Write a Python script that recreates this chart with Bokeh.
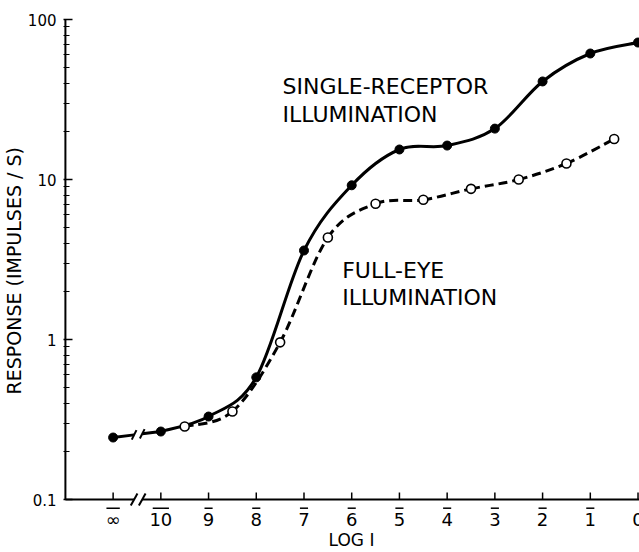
import numpy as np
from bokeh.plotting import figure
from bokeh.models import Range1d, FixedTicker, Label, Title
from bokeh.core.properties import value
from bokeh.embed import file_html
from bokeh.resources import INLINE

# ---------------- data ----------------
log_i_single = [-11, -10, -9, -8, -7, -6, -5, -4, -3, -2, -1, 0]
resp_single = [0.244, 0.266, 0.33, 0.58, 3.6, 9.2, 15.4, 16.3, 20.8, 41.0, 61.3, 71.8]

log_i_full = [-9.5, -8.5, -7.5, -6.5, -5.5, -4.5, -3.5, -2.5, -1.5, -0.5]
resp_full = [0.286, 0.355, 0.96, 4.34, 7.05, 7.47, 8.74, 10.0, 12.6, 17.9]

x_ticks = [-11, -10, -9, -8, -7, -6, -5, -4, -3, -2, -1, 0]
x_tick_labels = ["\u221e", "10", "9", "8", "7", "6", "5", "4", "3", "2", "1", "0"]
x_tick_overbar = [True] * 11 + [False]          # "bar" notation for negative logs
y_ticks = [0.1, 1, 10, 100]
y_tick_labels = ["0.1", "1", "10", "100"]
y_minor = [0.2, 0.3, 0.4, 0.5, 0.6, 0.7, 0.8, 0.9,
           2, 3, 4, 5, 6, 7, 8, 9,
           20, 30, 40, 50, 60, 70, 80, 90]

# ---------------- layout constants ----------------
PX_DEC = 160.0                       # pixels per decade
def y_px_below(px):                  # value lying `px` pixels below the 0.1 line
    return 0.1 * 10 ** (-px / PX_DEC)

X_START, X_END = -12.04, 0.031
Y_START, Y_END = y_px_below(29), 100
AXIS_X = -12
BRK = (-10.56, -10.39)               # axis / curve break
FONT = "DejaVu Sans"


def bezier_pieces(xs, ys):
    """Catmull-Rom control points (in x / log-y space) for a smooth curve through the points."""
    x = np.asarray(xs, float)
    ly = np.log10(np.asarray(ys, float))
    xp = np.concatenate([[x[0]], x, [x[-1]]])
    yp = np.concatenate([[ly[0]], ly, [ly[-1]]])
    d = dict(x0=[], y0=[], x1=[], y1=[], cx0=[], cy0=[], cx1=[], cy1=[])
    for i in range(len(x) - 1):
        p0x, p1x, p2x, p3x = xp[i], xp[i + 1], xp[i + 2], xp[i + 3]
        p0y, p1y, p2y, p3y = yp[i], yp[i + 1], yp[i + 2], yp[i + 3]
        d["x0"].append(p1x); d["y0"].append(10 ** p1y)
        d["x1"].append(p2x); d["y1"].append(10 ** p2y)
        d["cx0"].append(p1x + (p2x - p0x) / 6); d["cy0"].append(10 ** (p1y + (p2y - p0y) / 6))
        d["cx1"].append(p2x - (p3x - p1x) / 6); d["cy1"].append(10 ** (p2y - (p3y - p1y) / 6))
    return d


p = figure(width=639, height=552,
           x_range=Range1d(X_START, X_END), y_range=Range1d(Y_START, Y_END),
           y_axis_type="log", output_backend="svg", toolbar_location=None,
           min_border_left=63, min_border_right=0, min_border_top=19, min_border_bottom=24)
p.outline_line_color = None
p.xgrid.visible = False
p.ygrid.visible = False
p.background_fill_color = "white"
p.border_fill_color = "white"

# ---- x axis: only its title; line, ticks and labels drawn in the frame ----
xa = p.xaxis[0]
xa.ticker = FixedTicker(ticks=[])
xa.axis_line_color = None
xa.major_tick_line_color = None
xa.minor_tick_line_color = None
xa.major_tick_in = 0
xa.major_tick_out = 0
xa.minor_tick_in = 0
xa.minor_tick_out = 0
xa.major_label_standoff = 0
xa.axis_label = "LOG I"
xa.axis_label_text_font = FONT
xa.axis_label_text_font_style = "normal"
xa.axis_label_text_font_size = "17px"
xa.axis_label_text_color = "black"
xa.axis_label_standoff = 1

# ---- y axis ----
ya = p.yaxis[0]
ya.ticker = FixedTicker(ticks=y_ticks, minor_ticks=y_minor)
ya.major_label_overrides = {t: l for t, l in zip(y_ticks, y_tick_labels)}
ya.axis_line_color = None
ya.major_tick_in = 9
ya.major_tick_out = 0
ya.minor_tick_in = 6
ya.minor_tick_out = 0
ya.major_tick_line_width = 1.5
ya.minor_tick_line_width = 1.2
ya.major_tick_line_color = "black"
ya.minor_tick_line_color = "black"
ya.major_label_standoff = 7
ya.major_label_text_font = FONT
ya.major_label_text_font_size = "15px"
ya.major_label_text_color = "black"

# y-axis title, in the left side panel (starts near the 0.6 level like the reference)
p.add_layout(Title(text="RESPONSE (IMPULSES / S)", align="left", offset=134, standoff=0,
                   text_font=FONT, text_font_size="19px", text_font_style="normal",
                   text_color="black"), "left")

# ---- hand-drawn axis lines with break ----
p.segment(x0=[AXIS_X], y0=[y_ticks[0]], x1=[AXIS_X], y1=[y_ticks[-1]], line_color="black", line_width=2)
p.segment(x0=[AXIS_X, BRK[1]], y0=[y_ticks[0]] * 2, x1=[BRK[0], X_END], y1=[y_ticks[0]] * 2,
          line_color="black", line_width=2)
tick_len = 10 ** (7 / PX_DEC)
p.segment(x0=x_ticks, y0=[y_ticks[0]] * len(x_ticks), x1=x_ticks,
          y1=[y_ticks[0] * tick_len] * len(x_ticks), line_color="black", line_width=1.5)
sl_dx, sl_f = 0.07, 1.09
p.segment(x0=[b - sl_dx for b in BRK], y0=[y_ticks[0] / sl_f] * 2,
          x1=[b + sl_dx for b in BRK], y1=[y_ticks[0] * sl_f] * 2, line_color="black", line_width=2)

# x tick labels with bar notation
p.text(x=x_ticks, y=[y_px_below(20)] * len(x_ticks), text=x_tick_labels,
       text_font=value(FONT), text_font_size="18px", text_color="black",
       text_align="center", text_baseline="middle")
bar_half = [0.14 if l == "\u221e" else 0.085 * len(l) for l in x_tick_labels]
bx = [(t - h, t + h) for t, h, b in zip(x_ticks, bar_half, x_tick_overbar) if b]
p.segment(x0=[a for a, _ in bx], y0=[y_px_below(8.7)] * len(bx),
          x1=[c for _, c in bx], y1=[y_px_below(8.7)] * len(bx), line_color="black", line_width=1.5)

# ---- single-receptor curve (solid) ----
ly_pair = np.log10(resp_single[:2])
yb = [10 ** np.interp(b, log_i_single[:2], ly_pair) for b in BRK]
p.line([log_i_single[0], BRK[0]], [resp_single[0], yb[0]], line_color="black", line_width=3)
p.line([BRK[1], log_i_single[1]], [yb[1], resp_single[1]], line_color="black", line_width=3)
cf = 1.07
p.segment(x0=[b - sl_dx * 0.7 for b in BRK], y0=[v / cf for v in yb],
          x1=[b + sl_dx * 0.7 for b in BRK], y1=[v * cf for v in yb], line_color="black", line_width=2)
p.bezier(**bezier_pieces(log_i_single[1:], resp_single[1:]), line_color="black", line_width=3)

# ---- full-eye curve (dashed) ----
p.bezier(**bezier_pieces(log_i_full, resp_full), line_color="black", line_width=3, line_dash="9 5")

p.scatter(log_i_single, resp_single, size=9, marker="circle", fill_color="black", line_color="black")
p.scatter(log_i_full, resp_full, size=9, marker="circle", fill_color="white", line_color="black", line_width=1.6)

# ---- annotations ----
for txt, x, y in [("SINGLE-RECEPTOR", -7.45, 37.9), ("ILLUMINATION", -7.45, 25.6),
                  ("FULL-EYE", -6.2, 2.68), ("ILLUMINATION", -6.2, 1.82)]:
    p.add_layout(Label(x=x, y=y, text=txt, text_font=FONT, text_font_size="22px",
                       text_color="black", text_baseline="middle", text_align="left"))

open("out.html", "w").write(file_html(p, INLINE))
